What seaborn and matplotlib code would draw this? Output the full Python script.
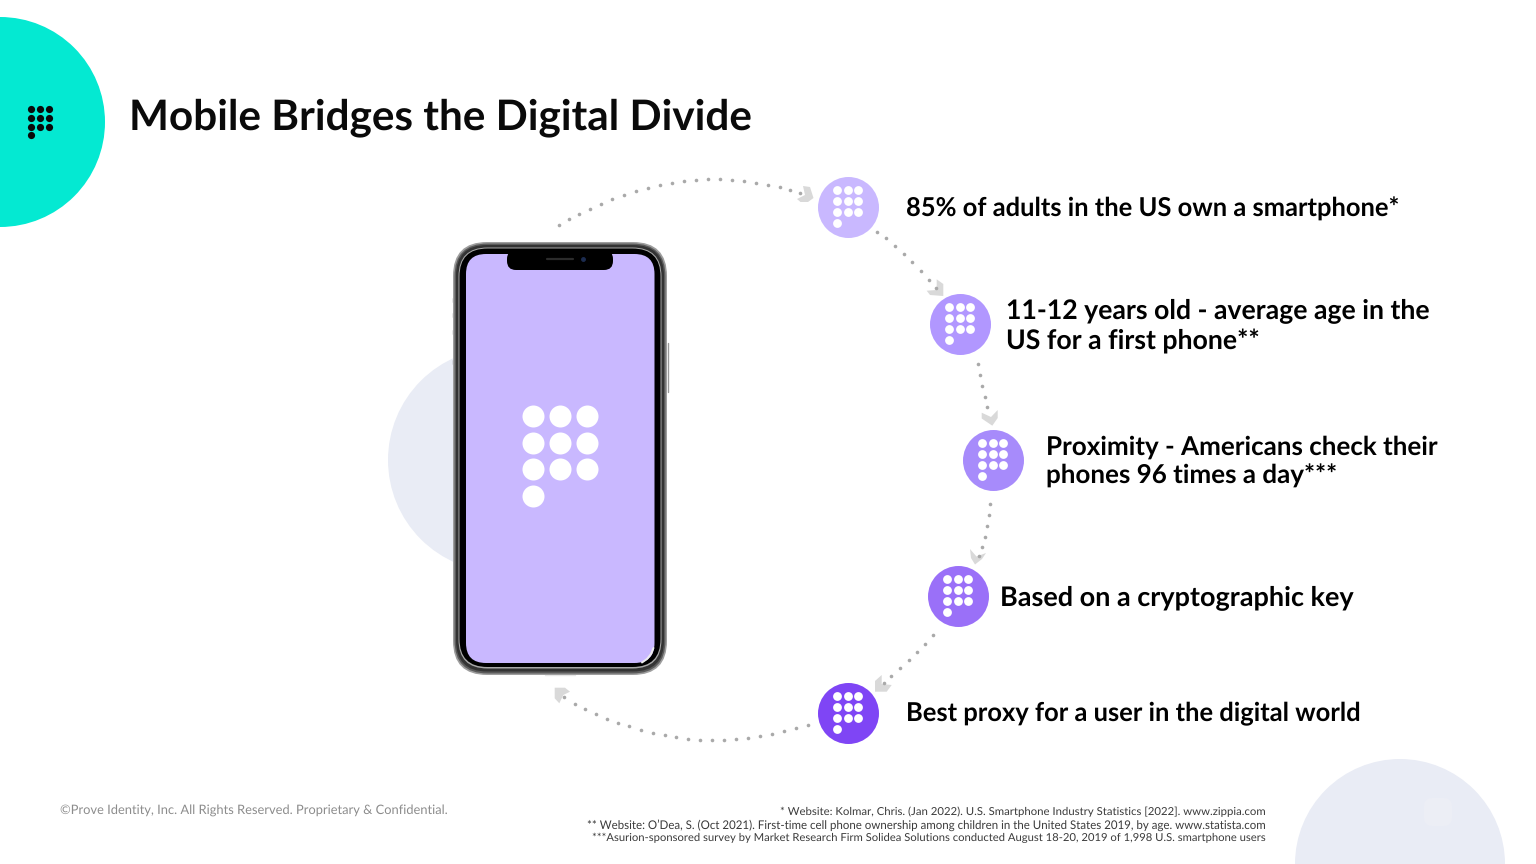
import numpy as np
import pandas as pd
import matplotlib
matplotlib.use('Agg')
import matplotlib.pyplot as plt
from matplotlib.patches import Circle, FancyBboxPatch, Polygon
import seaborn as sns

sns.set_theme(style='white')
plt.rcParams['font.family'] = ['Lato', 'DejaVu Sans']
plt.rcParams['text.hinting'] = 'no_hinting'

TITLE = 'Mobile Bridges the Digital Divide'
COPYRIGHT = '©Prove Identity, Inc. All Rights Reserved. Proprietary & Confidential.'
FOOTNOTES = [
    '* Website: Kolmar, Chris. (Jan 2022). U.S. Smartphone Industry Statistics [2022]. www.zippia.com',
    '** Website: O’Dea, S. (Oct 2021). First-time cell phone ownership among children in the United States 2019, by age. www.statista.com',
    '***Asurion-sponsored survey by Market Research Firm Solidea Solutions conducted August 18-20, 2019 of 1,998 U.S. smartphone users',
]

node_x = [847.5, 959.5, 992.5, 957.5, 847.5]
node_y = [206.5, 323.5, 459.5, 595.5, 712.5]
node_colors = ['#C9B8FF', '#B197FF', '#A78BFB', '#9A70F8', '#7F45F5']
node_labels = [
    '85% of adults in the US own a smartphone*',
    '11-12 years old - average age in the\nUS for a first phone**',
    'Proximity - Americans check their\nphones 96 times a day***',
    'Based on a cryptographic key',
    'Best proxy for a user in the digital world',
]
label_x = [906, 1006, 1046, 1000, 906]
label_size = [18.4, 19.2, 18.75, 19.45, 18.4]

# dots of the dotted ring
ring_x = [559, 569, 579, 590, 601, 612, 624, 636, 648, 660, 672, 684, 696, 708, 720, 732, 744, 756, 768, 780, 790, 800,
          877, 886, 895, 904, 912, 921, 929, 936,
          978, 980, 982, 985, 987,
          990, 989, 987, 985, 982, 979,
          933, 925, 917, 909, 900, 891, 884,
          808, 796, 784, 772, 760, 748, 736, 724, 712, 700, 688, 676, 665, 653, 641, 629, 618, 607, 596, 585, 575, 564]
ring_y = [225, 219, 214, 209, 204, 199, 195, 191, 188, 185, 183, 181, 180, 179, 179, 180, 181, 183, 185, 187, 190, 193,
          232, 238, 246, 254, 262, 271, 280, 288,
          364, 375, 386, 397, 407,
          504, 515, 526, 537, 547, 556,
          635, 644, 652, 660, 668, 676, 683,
          725, 728, 731, 734, 736, 738, 739, 740, 740, 740, 739, 737, 735, 733, 730, 726, 723, 719, 714, 709, 704, 697]

# chevrons at the end of each ring piece
chevrons = [
    [(803, 186), (810, 187), (813.5, 198), (808, 202), (800.5, 202), (797, 199), (805, 195)],
    [(936.7, 279.3), (943.3, 284), (943.3, 296), (930, 295), (926.7, 290.7), (936.7, 290)],
    [(981.7, 412.7), (991, 417), (997.7, 410), (997.7, 418), (992.3, 425.7), (981.7, 418.5)],
    [(970, 549), (976.5, 556.5), (986, 553), (982, 559), (975, 564.5), (971, 558)],
    [(875, 681), (881.7, 675), (881.7, 684), (891.7, 685), (886.7, 691.7), (875, 691.7)],
    [(554.7, 687.7), (565, 687.7), (570, 691.7), (563.3, 695), (559.3, 703.3), (554.7, 698.3)],
]

# logo grid: three rows of three dots and one below
grid_col = [-1, 0, 1, -1, 0, 1, -1, 0, 1, -1]
grid_row = [-1.5, -1.5, -1.5, -0.5, -0.5, -0.5, 0.5, 0.5, 0.5, 1.5]


def px_size(diameter):
    # scatter sizes are in points squared, the canvas is in pixels at dpi 100
    return (diameter * 0.72) ** 2


def draw_logo(ax, cx, cy, step, diameter, color, z):
    sns.scatterplot(x=[cx + c * step for c in grid_col], y=[cy + r * step for r in grid_row],
                    s=px_size(diameter), color=color, linewidth=0, ax=ax, legend=False, zorder=z)


def rounded(ax, x0, y0, x1, y1, r, color, z):
    ax.add_patch(FancyBboxPatch((x0, y0), x1 - x0, y1 - y0, boxstyle=f'round,pad=0,rounding_size={r}',
                                facecolor=color, edgecolor='none', zorder=z))


fig = plt.figure(figsize=(15.36, 8.64), dpi=100)
ax = fig.add_axes([0, 0, 1, 1])
ax.set_xlim(0, 1536)
ax.set_ylim(864, 0)
ax.axis('off')

# background shapes
ax.add_patch(Circle((0, 122), 105, facecolor='#04E9D2', edgecolor='none', zorder=1))
ax.add_patch(Circle((500, 460), 112, facecolor='#E9ECF5', edgecolor='none', zorder=1))
ax.add_patch(Circle((1400, 864), 105, facecolor='#E9ECF5', edgecolor='none', zorder=1))
rounded(ax, 1424, 798, 1452, 826, 8, '#ECEEF5', 2)
draw_logo(ax, 40, 122.3, 8.7, 7.2, '#0A0A0A', 3)

# phone
rounded(ax, 453, 242, 667, 675, 34, '#9E9E9E', 4)
rounded(ax, 454.5, 243.5, 665.5, 673.5, 33, '#5A5A5A', 5)
rounded(ax, 456, 245, 664, 671.5, 31, '#333333', 6)
rounded(ax, 458.5, 247.5, 661.5, 668.5, 29, '#A8A8A8', 7)
rounded(ax, 459.5, 248.5, 660.5, 667, 28, '#000000', 8)
rounded(ax, 466, 254, 654.5, 663, 20, '#C9B8FF', 9)
rounded(ax, 507, 250, 613, 270, 9, '#000000', 10)
ax.plot([547, 573], [259, 259], color='#2B2B2B', lw=1.6, solid_capstyle='round', zorder=11)
ax.plot([583], [259], 'o', color='#1C2C50', ms=2.5, zorder=11)
ax.plot([653.5, 651, 647, 642], [648, 654, 659, 662.5], color='#EDEDED', lw=1.4, zorder=10)
for y0, y1 in [(298, 302), (313, 317), (330, 334), (360, 364)]:
    ax.plot([452.6, 452.6], [y0, y1], color='#8A8A8A', lw=1, zorder=3)
ax.plot([667.8, 667.8], [343, 392], color='#9A9A9A', lw=1, zorder=3)
ax.plot([545, 575], [675.3, 675.3], color='#E6E6E6', lw=1, zorder=3)
draw_logo(ax, 560, 456, 26.6, 22, 'white', 12)

# dotted ring
ring = pd.DataFrame({'x': ring_x, 'y': ring_y})
sns.scatterplot(data=ring, x='x', y='y', s=px_size(3.6), color='#A9A9A9', linewidth=0, ax=ax, legend=False, zorder=4)
for pts in chevrons:
    ax.add_patch(Polygon(pts, closed=True, facecolor='#D9D9D9', edgecolor='none', zorder=3))

# nodes
for x, y, c in zip(node_x, node_y, node_colors):
    sns.scatterplot(x=[x], y=[y], s=px_size(61), color=c, linewidth=0, ax=ax, legend=False, zorder=5)
    draw_logo(ax, x, y, 10.9, 8.8, 'white', 6)

for x, y, label, size in zip(label_x, node_y, node_labels, label_size):
    ax.text(x, y + 2, label, fontsize=size, fontweight='bold', color='black', va='center', ha='left',
            linespacing=1.24, zorder=7)

ax.text(129, 118, TITLE, fontsize=30.4, fontweight='bold', color='#0A0A0A', va='center', ha='left', zorder=7)
ax.text(60, 810.5, COPYRIGHT, fontsize=9.25, color='#8C8C8C', va='center', ha='left', zorder=7)
for y, note, size in zip([812, 825, 838], FOOTNOTES, [8.2, 8.3, 8.1]):
    ax.text(1266, y, note, fontsize=size, color='#3A3A3A', va='center', ha='right', zorder=7)

fig.savefig('out.png', dpi=100)
